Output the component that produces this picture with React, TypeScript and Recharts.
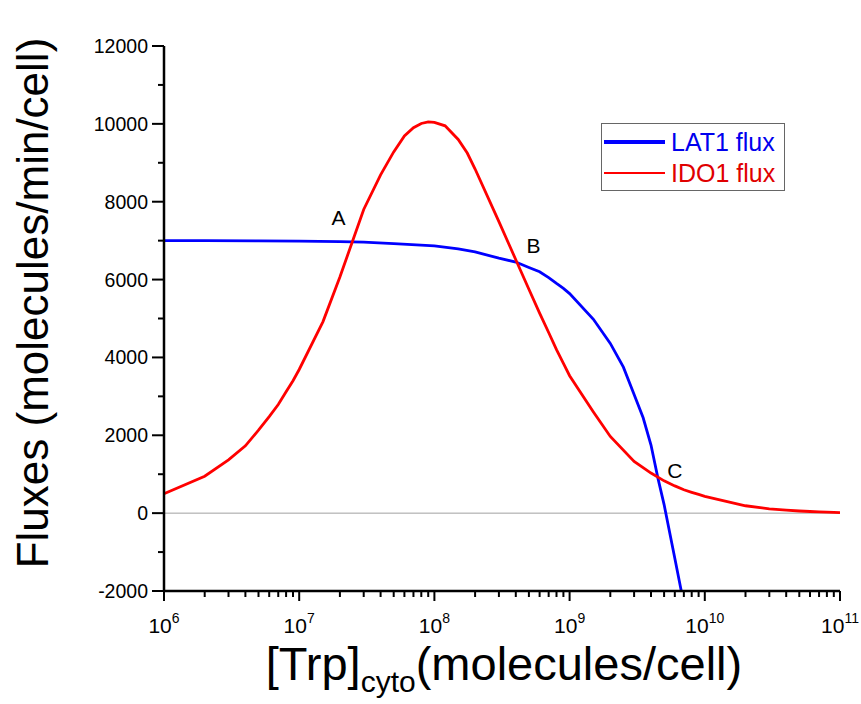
import React from "react";
import { LineChart, Line, XAxis, YAxis, ReferenceLine, ReferenceDot } from "recharts";

// LAT1 flux vs cytosolic Trp (molecules/cell)
const lat1Trp = [1e6, 2e6, 5e6, 1e7, 2e7, 3e7, 5e7, 1e8, 1.5e8, 2e8, 3e8, 4e8, 5e8, 6e8, 7e8, 8e8, 9e8, 1e9, 1.5e9, 2e9, 2.5e9, 3e9, 3.5e9, 4e9, 4.5e9, 5e9, 6e9, 6.7e9];
const lat1Flux = [7000, 7000, 6995, 6990, 6975, 6960, 6925, 6865, 6790, 6710, 6550, 6450, 6310, 6200, 6050, 5900, 5775, 5640, 4980, 4360, 3750, 3050, 2450, 1750, 900, 220, -1160, -2000];

// IDO1 flux
const ido1Trp = [
  1e6, 2e6, 3e6, 4e6, 5e6, 6e6, 7e6, 8e6, 9e6,
  1e7, 1.5e7, 2e7, 3e7, 4e7, 5e7, 6e7, 7e7, 8e7, 9e7,
  1e8, 1.2e8, 1.5e8, 1.75e8, 2e8, 3e8, 4e8, 5e8, 6e8, 7e8, 8e8, 9e8,
  1e9, 1.5e9, 2e9, 3e9, 4e9, 5e9, 6e9, 7e9, 8e9, 9e9,
  1e10, 2e10, 3e10, 4e10, 5e10, 6e10, 7e10, 8e10, 9e10,
  1e11,
];
const ido1Flux = [
  500, 950, 1370, 1730, 2130, 2480, 2790, 3120, 3400,
  3690, 4920, 6065, 7800, 8690, 9280, 9690, 9900, 10010, 10050,
  10040, 9950, 9600, 9250, 8840, 7490, 6510, 5750, 5140, 4640, 4200, 3850,
  3530, 2600, 1970, 1330, 1030, 830, 700, 600, 535, 480,
  430, 190, 110, 75, 55, 42, 33, 25, 18,
  12,
];

const majorX = [1e6, 1e7, 1e8, 1e9, 1e10, 1e11];
const minorX = [2, 3, 4, 5, 6, 7, 8, 9];
const yTicks = [-2000, -1000, 0, 1000, 2000, 3000, 4000, 5000, 6000, 7000, 8000, 9000, 10000, 11000, 12000];

// crossing point labels
const points = [
  { name: "A", x: 1.95e7, y: 7600 },
  { name: "B", x: 5.4e8, y: 6880 },
  { name: "C", x: 6.0e9, y: 1100 },
];

const series = [
  { name: "LAT1 flux", color: "#0000ff", text: "#0000ee" },
  { name: "IDO1 flux", color: "#ff0000", text: "#e00000" },
];

const xTicks: number[] = [];
majorX.forEach((m, i) => {
  xTicks.push(m);
  if (i < majorX.length - 1) minorX.forEach((k) => xTicks.push(m * k));
});

const lat1Data = lat1Trp.map((x, i) => ({ x, y: lat1Flux[i] }));
const ido1Data = ido1Trp.map((x, i) => ({ x, y: ido1Flux[i] }));

const font = "'Liberation Sans', Arial, sans-serif";

const XTick = (props: any) => {
  const { x, y, payload } = props;
  const v = payload.value;
  const idx = majorX.indexOf(v);
  const major = idx >= 0;
  const len = major ? 10 : 6;
  return (
    <g>
      <path d={`M${x},${y}L${x},${y + len}`} stroke="#000" strokeWidth={2} fill="none" />
      {major && (
        <text x={x} y={y + 42} textAnchor="middle" fontSize={21} fontFamily={font} fill="#000">
          10
          <tspan fontSize={14} dy={-10}>
            {idx + 6}
          </tspan>
        </text>
      )}
    </g>
  );
};

const YTick = (props: any) => {
  const { x, y, payload } = props;
  const v = payload.value;
  const major = Math.abs(v) % 2000 === 0;
  const len = major ? 12 : 6;
  return (
    <g>
      <path d={`M${x - len},${y}L${x},${y}`} stroke="#000" strokeWidth={2} fill="none" />
      {major && (
        <text x={x - 16} y={y} textAnchor="end" dominantBaseline="central" fontSize={19.5} fontFamily={font} fill="#000">
          {v}
        </text>
      )}
    </g>
  );
};

export default function App() {
  return (
    <div style={{ position: "absolute", left: 0, top: 0, width: 861, height: 704, background: "#fff" }}>
      <LineChart width={861} height={704} margin={{ top: 46, right: 21, bottom: 63, left: 84 }}>
        <XAxis
          dataKey="x"
          type="number"
          scale="log"
          domain={[1e6, 1e11]}
          allowDataOverflow
          ticks={xTicks}
          interval={0}
          height={50}
          tickSize={0}
          tickMargin={0}
          tickLine={false}
          tick={<XTick />}
          axisLine={{ stroke: "#000", strokeWidth: 2.5 }}
        />
        <YAxis
          type="number"
          domain={[-2000, 12000]}
          allowDataOverflow
          ticks={yTicks}
          interval={0}
          width={80}
          tickSize={0}
          tickMargin={0}
          tickLine={false}
          tick={<YTick />}
          axisLine={{ stroke: "#000", strokeWidth: 2.5 }}
        />
        <ReferenceLine y={0} stroke="#a0a0a0" strokeWidth={1} />
        <Line data={lat1Data} dataKey="y" type="linear" stroke={series[0].color} strokeWidth={2.8} dot={false} isAnimationActive={false} />
        <Line data={ido1Data} dataKey="y" type="linear" stroke={series[1].color} strokeWidth={2.8} dot={false} isAnimationActive={false} />
        {points.map((p) => (
          <ReferenceDot
            key={p.name}
            x={p.x}
            y={p.y}
            r={1}
            fill="none"
            stroke="none"
            label={{ value: p.name, position: "center", fontSize: 21, fill: "#000", fontFamily: font }}
          />
        ))}
      </LineChart>

      <svg width={861} height={704} style={{ position: "absolute", left: 0, top: 0, pointerEvents: "none" }}>
        <text
          transform="translate(48, 303) rotate(-90)"
          textAnchor="middle"
          fontSize={44}
          fontFamily={font}
          fill="#000"
        >
          Fluxes (molecules/min/cell)
        </text>
        <text x={504} y={680} textAnchor="middle" fontSize={47} fontFamily={font} fill="#000">
          [Trp]
          <tspan fontSize={30} dy={12}>
            cyto
          </tspan>
          <tspan dy={-12}>(molecules/cell)</tspan>
        </text>
      </svg>

      <div
        style={{
          position: "absolute",
          left: 601,
          top: 123,
          width: 182,
          height: 66,
          border: "1px solid #666",
          background: "#fff",
          fontFamily: font,
          fontSize: 25,
        }}
      >
        {series.map((s, i) => (
          <div key={s.name} style={{ position: "absolute", left: 2, top: 3 + i * 31, height: 30, display: "flex", alignItems: "center" }}>
            <div style={{ width: 61, height: i === 0 ? 3.5 : 2.5, background: s.color }} />
            <span style={{ color: s.text, marginLeft: 6, lineHeight: "30px", whiteSpace: "nowrap" }}>{s.name}</span>
          </div>
        ))}
      </div>
    </div>
  );
}
